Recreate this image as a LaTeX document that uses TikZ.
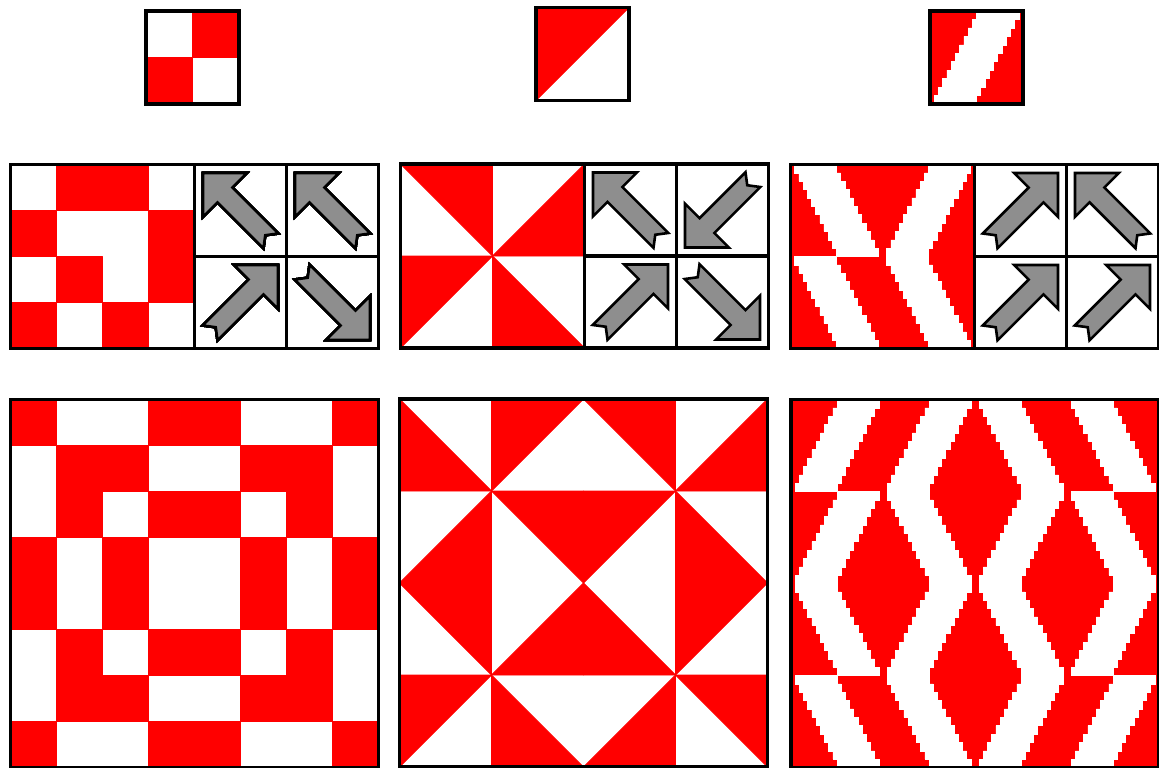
\documentclass[tikz,border=0pt]{standalone}
\definecolor{tilered}{RGB}{255,0,0}
\definecolor{arrowgray}{RGB}{142,142,142}
\tikzset{
  redpart/.style={fill=tilered, draw=tilered, line width=0.9pt, line join=round},
  whitepart/.style={fill=white, draw=white, line width=0.5pt},
  frame/.style={draw=black, line width=3.6pt},
  divider/.style={draw=black, line width=3.4pt},
  orient/.style={fill=arrowgray, draw=black, line width=2.6pt, line join=miter},
}
% red square cell: x, y, size
\newcommand\sqcell[3]{\path[redpart] (#1,#2) rectangle ++(#3,#3);}
% red half-square triangles, named by the corner they contain
\newcommand\trTL[3]{\path[redpart] (#1,#2) -- ++(#3,0) -- ++(-#3,#3) -- cycle;}
\newcommand\trTR[3]{\path[redpart] (#1,#2) -- ++(#3,0) -- ++(0,#3) -- cycle;}
\newcommand\trBL[3]{\path[redpart] (#1,#2) -- ++(0,#3) -- ++(#3,0) -- cycle;}
\newcommand\trBR[3]{\path[redpart] (#1,#2) ++(#3,0) -- ++(0,#3) -- ++(-#3,0) -- cycle;}
% white stair stripes: O = rising to the right, M = falling to the right
\newcommand\stripeO[3]{\path[whitepart] ({#1+#3/22},{#2+#3}) \foreach \k in {0,...,10}{ -- ++(0,{-#3/11}) -- ++({#3/22},0) } -- ++({9*#3/22},0) \foreach \k in {0,...,10}{ -- ++(0,{#3/11}) -- ++({-#3/22},0) } -- cycle;}
\newcommand\stripeM[3]{\path[whitepart] ({#1+#3/22},#2) \foreach \k in {0,...,10}{ -- ++(0,{#3/11}) -- ++({#3/22},0) } -- ++({9*#3/22},0) \foreach \k in {0,...,10}{ -- ++(0,{-#3/11}) -- ++({-#3/22},0) } -- cycle;}
% orientation arrow: centre x, centre y, angle
\newcommand\orarrow[3]{\path[orient, shift={(#1,#2)}, rotate=#3] (53,0) -- (22,31) -- (22,10.5) -- (-43,10.5) -- (-35,0) -- (-43,-10.5) -- (22,-10.5) -- (22,-31) -- cycle;}
% arrow panel grid: left x of arrow area, top y
\newcommand\arrowgrid[2]{%
  \draw[divider] (#1,#2) -- ++(0,184);
  \draw[divider] ({#1+92},#2) -- ++(0,184);
  \draw[divider] (#1,{#2+92}) -- ++(184,0);}
\begin{document}
\begin{tikzpicture}[x=1pt,y=-1pt]
\useasboundingbox (0,0) rectangle (1159,768);
\fill[white] (0,0) rectangle (1159,768);

% ---------- top tiles ----------
\sqcell{192.5}{11}{46.5}
\sqcell{146}{57.5}{46.5}
\draw[frame] (146,11) rectangle ++(93,93);

\trTL{536}{7.5}{93}
\draw[frame] (536,7.5) rectangle ++(93,93);

\path[redpart] (930,11) rectangle ++(93,93);
\stripeO{930}{11}{93}
\draw[frame] (930,11) rectangle ++(93,93);

% ---------- middle panel 1 ----------
\foreach \c/\r in {1/0,2/0,0/1,3/1,1/2,3/2,0/3,2/3}
  \sqcell{10.5+46*\c}{164.5+46*\r}{46}
\orarrow{240.5}{210.5}{135}
\orarrow{332.5}{210.5}{135}
\orarrow{240.5}{302.5}{45}
\orarrow{332.5}{302.5}{-45}
\arrowgrid{194.5}{164.5}
\draw[frame] (10.5,164.5) rectangle ++(368,184);

% ---------- middle panel 2 ----------
\trTR{400.5}{164}{92}
\trBR{492.5}{164}{92}
\trTL{400.5}{256}{92}
\trBL{492.5}{256}{92}
\orarrow{630.5}{210}{135}
\orarrow{722.5}{210}{-135}
\orarrow{630.5}{302}{45}
\orarrow{722.5}{302}{-45}
\arrowgrid{584.5}{164}
\draw[frame] (400.5,164) rectangle ++(368,184);

% ---------- middle panel 3 ----------
\path[redpart] (790.5,164.5) rectangle ++(184,184);
\stripeM{790.5}{164.5}{92}
\stripeO{882.5}{164.5}{92}
\stripeM{790.5}{256.5}{92}
\stripeM{882.5}{256.5}{92}
\orarrow{1020.5}{210.5}{45}
\orarrow{1112.5}{210.5}{135}
\orarrow{1020.5}{302.5}{45}
\orarrow{1112.5}{302.5}{45}
\arrowgrid{974.5}{164.5}
\draw[frame] (790.5,164.5) rectangle ++(368,184);

% ---------- bottom panel 1 ----------
\foreach \c/\r in {0/0,3/0,4/0,7/0, 1/1,2/1,5/1,6/1, 1/2,3/2,4/2,6/2, 0/3,2/3,5/3,7/3,
                   0/4,2/4,5/4,7/4, 1/5,3/5,4/5,6/5, 1/6,2/6,5/6,6/6, 0/7,3/7,4/7,7/7}
  \sqcell{10.5+46*\c}{399.5+46*\r}{46}
\draw[frame] (10.5,399.5) rectangle ++(368,368);

% ---------- bottom panel 2 ----------
\trBL{399.5}{399}{92}  \trTL{491.5}{399}{92}  \trTR{583.5}{399}{92}  \trBR{675.5}{399}{92}
\trBR{399.5}{491}{92}  \trTR{491.5}{491}{92}  \trTL{583.5}{491}{92}  \trBL{675.5}{491}{92}
\trTR{399.5}{583}{92}  \trBR{491.5}{583}{92}  \trBL{583.5}{583}{92}  \trTL{675.5}{583}{92}
\trTL{399.5}{675}{92}  \trBL{491.5}{675}{92}  \trBR{583.5}{675}{92}  \trTR{675.5}{675}{92}
\draw[frame] (399.5,399) rectangle ++(368,368);

% ---------- bottom panel 3 ----------
\path[redpart] (791,399.5) rectangle ++(368,368);
\stripeO{791}{399.5}{92}  \stripeO{883}{399.5}{92}  \stripeM{975}{399.5}{92}  \stripeM{1067}{399.5}{92}
\stripeO{791}{491.5}{92}  \stripeM{883}{491.5}{92}  \stripeO{975}{491.5}{92}  \stripeM{1067}{491.5}{92}
\stripeM{791}{583.5}{92}  \stripeO{883}{583.5}{92}  \stripeM{975}{583.5}{92}  \stripeO{1067}{583.5}{92}
\stripeM{791}{675.5}{92}  \stripeM{883}{675.5}{92}  \stripeO{975}{675.5}{92}  \stripeO{1067}{675.5}{92}
\draw[frame] (791,399.5) rectangle ++(368,368);
\end{tikzpicture}
\end{document}
